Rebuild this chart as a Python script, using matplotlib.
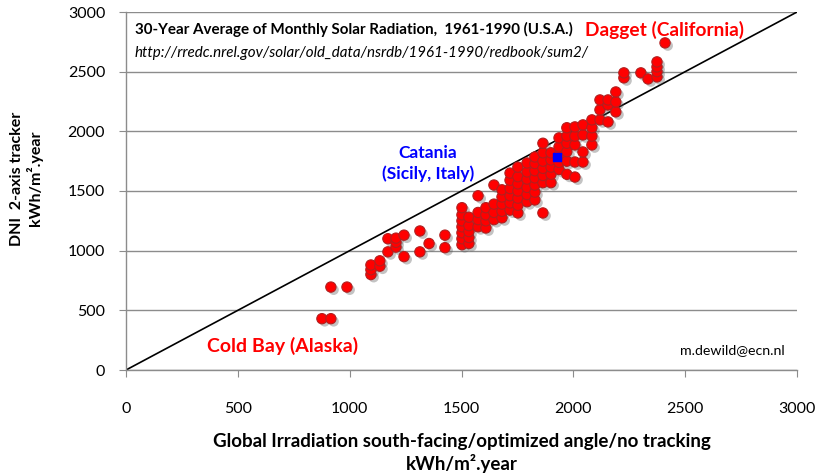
import matplotlib
matplotlib.use("Agg")
import matplotlib.pyplot as plt
import matplotlib.patheffects as pe
import numpy as np

# Data: (global irradiation optimized angle, DNI 2-axis tracker), kWh/m2.year
columns_x = [876, 916, 988, 1095, 1135, 1171, 1207, 1243, 1314, 1355, 1426,
             1502, 1533, 1574, 1609, 1645, 1681, 1717, 1752, 1793, 1828,
             1864, 1900, 1936, 1971, 2007, 2043, 2083, 2119, 2155, 2190,
             2226, 2302, 2334, 2374, 2410]
columns_y = [
    [430], [430, 695], [695], [800, 840, 880], [870, 915], [990, 1100],
    [1030, 1070, 1105], [950, 1130], [990, 1165], [1060], [1025, 1130],
    [1050, 1100, 1150, 1200, 1250, 1300, 1360],
    [1060, 1110, 1160, 1210, 1280],
    [1200, 1260, 1320, 1460],
    [1190, 1250, 1300, 1360],
    [1260, 1320, 1390, 1550],
    [1275, 1330, 1390, 1450, 1510],
    [1340, 1400, 1460, 1520, 1590, 1650],
    [1316, 1380, 1440, 1500, 1560, 1620, 1700],
    [1410, 1470, 1530, 1600, 1660, 1735],
    [1425, 1490, 1550, 1610, 1670, 1730, 1785],
    [1316, 1570, 1630, 1690, 1750, 1820, 1900],
    [1570, 1640, 1700, 1760, 1820],
    [1680, 1740, 1800, 1870, 1945],
    [1640, 1750, 1830, 1900, 1960, 2030],
    [1617, 1743, 1886, 1960, 2037],
    [1743, 1827, 1970, 2054],
    [1886, 1960, 2030, 2096],
    [2096, 2180, 2263],
    [2079, 2221, 2263],
    [2163, 2246, 2330],
    [2448, 2490],
    [2490],
    [2439],
    [2456, 2500, 2540, 2582],
    [2741],
]
catania_x = [1927]
catania_y = [1785]
ticks = [0, 500, 1000, 1500, 2000, 2500, 3000]
diag = [0, 3000]

xs = []
ys = []
for cx, cy in zip(columns_x, columns_y):
    for v in cy:
        xs.append(cx)
        ys.append(v)

plt.rcParams['font.family'] = ['Lato', 'DejaVu Sans']

fig = plt.figure(figsize=(8.18, 4.76), dpi=100)
ax = fig.add_axes([126/818, 1-370/476, (797-126)/818, (370-12)/476])

ax.set_xlim(0, 3000)
ax.set_ylim(0, 3000)
ax.set_xticks(ticks)
ax.set_yticks(ticks)
ax.grid(axis='y', color='#8c8c8c', linewidth=1.0)
ax.set_axisbelow(True)
for s in ['top', 'right']:
    ax.spines[s].set_visible(False)
for s in ['left', 'bottom']:
    ax.spines[s].set_color('#8c8c8c')
    ax.spines[s].set_linewidth(1.0)
ax.tick_params(axis='both', colors='#8c8c8c', labelcolor='black',
               direction='out', length=5, labelsize=11.5)
ax.tick_params(axis='x', pad=18)
ax.tick_params(axis='y', pad=10)

ax.plot(diag, diag, color='black', linewidth=1.2, zorder=2)

shadow = [pe.SimplePatchShadow(offset=(2, -2), shadow_rgbFace='#555555', alpha=0.35),
          pe.Normal()]
ax.scatter(xs, ys, s=55, c='#ff0000', edgecolors='#b02020', linewidths=0.8,
           zorder=3, path_effects=shadow)
ax.scatter(catania_x, catania_y, s=30, marker='s', c='#0000ff',
           edgecolors='#0000ff', zorder=4)

ax.set_xlabel('Global Irradiation south-facing/optimized angle/no tracking\nkWh/m².year',
              fontsize=13.5, fontweight='bold', labelpad=12, linespacing=1.25)
ax.set_ylabel('DNI  2-axis tracker\nkWh/m².year', fontsize=11.5,
              fontweight='bold', linespacing=1.15)
ax.yaxis.set_label_coords(-0.123, 0.535)

ax.text(40, 2850, '30-Year Average of Monthly Solar Radiation,  1961-1990 (U.S.A.)',
        fontsize=10.9, fontweight='bold', va='center', ha='left')
ax.text(40, 2660, 'http://rredc.nrel.gov/solar/old_data/nsrdb/1961-1990/redbook/sum2/',
        fontsize=10.9, style='italic', va='center', ha='left')
ax.text(2052, 2850, 'Dagget (California)', fontsize=13.8, fontweight='bold',
        color='#ff0000', va='center', ha='left')
ax.text(1350, 1730, 'Catania\n(Sicily, Italy)', fontsize=12.5, fontweight='bold',
        color='#0000ff', va='center', ha='center', linespacing=1.3)
ax.text(700, 201, 'Cold Bay (Alaska)', fontsize=14, fontweight='bold',
        color='#ff0000', va='center', ha='center')
ax.text(2946, 168, 'm.dewild@ecn.nl', fontsize=10.2, color='black',
        va='center', ha='right')

fig.savefig('out.png', dpi=100)
